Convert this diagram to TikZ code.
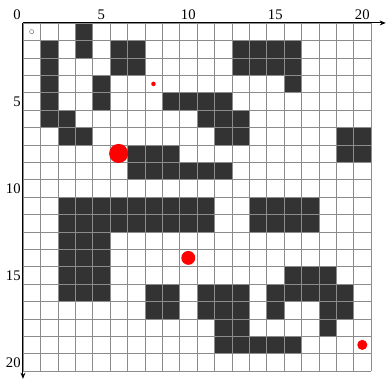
\documentclass[tikz,border=0pt]{standalone}
\usepackage{fontspec}
\setmainfont{Liberation Serif}
\usepackage{tikz}
\usetikzlibrary{arrows.meta}

\tikzset{
  obst/.style={fill=black!80},
  gridline/.style={draw=black!45, line width=0.4pt, step=1},
  axisline/.style={draw=black, line width=0.8pt, -{Stealth[length=5pt,width=4pt]}},
  ticklab/.style={inner sep=1pt, font=\fontsize{12}{14}\selectfont},
  goal/.style={fill=red, draw=none}
}

\begin{document}
\begin{tikzpicture}[x=0.5cm, y=0.5cm]
        \useasboundingbox (-1.32,1.32) rectangle (20.92,-20.57);
        % obstacles, row by row
        \foreach \r/\cl in {1/{4}, 2/{2,4,6,7,13,14,15,16}, 3/{2,6,7,13,14,15,16},
            4/{2,5,16}, 5/{2,5,9,10,11,12}, 6/{2,3,11,12,13}, 7/{3,4,12,13,19,20},
            8/{7,8,9,19,20}, 9/{7,8,9,10,11,12}, 11/{3,4,5,6,7,8,9,10,11,14,15,16,17},
            12/{3,4,5,6,7,8,9,10,11,14,15,16,17}, 13/{3,4,5}, 14/{3,4,5},
            15/{3,4,5,16,17,18}, 16/{3,4,5,8,9,11,12,13,15,16,17,18,19},
            17/{8,9,11,12,13,15,18,19}, 18/{12,13,18}, 19/{12,13,14,15,16}}{
          \foreach \c in \cl {\fill[obst] (\c-1,1-\r) rectangle (\c,-\r);}
        }
        \draw[gridline] (0,0) grid (20,-20);
        % axes
        \draw[axisline] (0,0) -- (20.85,0);
        \draw[axisline] (0,0) -- (0,-20.45);
        \node[ticklab, anchor=south east] (o) at (-0.05,0.1) {0};
        \foreach \k in {5,10,15,20}{
          \node[ticklab, anchor=south] (x\k) at (\k-0.5,0.1) {\k};
          \node[ticklab, anchor=east] (y\k) at (-0.05,0.5-\k) {\k};
        }
        % start and targets
        \draw[black!55, line width=0.4pt] (0.5,-0.5) circle (0.12);
        \fill[goal] (7.5,-3.5) circle (0.13);
        \fill[goal] (5.5,-7.5) circle (0.55);
        \fill[goal] (9.5,-13.5) circle (0.4);
        \fill[goal] (19.5,-18.5) circle (0.29);
      \end{tikzpicture}
\end{document}
